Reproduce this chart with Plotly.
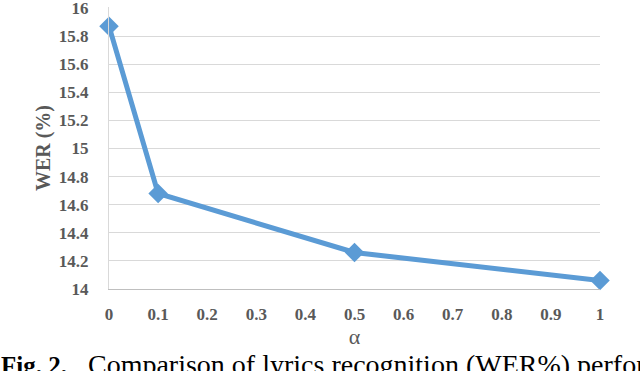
import plotly.graph_objects as go

alpha = [0, 0.1, 0.5, 1]
wer = [15.87, 14.68, 14.26, 14.06]
x_ticks = [0, 0.1, 0.2, 0.3, 0.4, 0.5, 0.6, 0.7, 0.8, 0.9, 1]
x_tick_labels = ["0", "0.1", "0.2", "0.3", "0.4", "0.5", "0.6", "0.7", "0.8", "0.9", "1"]
y_ticks = [14, 14.2, 14.4, 14.6, 14.8, 15, 15.2, 15.4, 15.6, 15.8, 16]
y_tick_labels = ["14", "14.2", "14.4", "14.6", "14.8", "15", "15.2", "15.4", "15.6", "15.8", "16"]
caption = ("<b><span style='font-size:25px'>Fig. 2.</span></b>&nbsp;&nbsp;&nbsp;"
           "Comparison of lyrics recognition (WER%) performance")

serif = "Liberation Serif"

fig = go.Figure()
fig.add_trace(go.Scatter(
    x=alpha, y=wer, mode="lines+markers",
    line=dict(color="#5B9BD5", width=5),
    marker=dict(symbol="diamond", size=15, color="#5B9BD5"),
    showlegend=False, cliponaxis=False,
))

fig.update_layout(
    template="none",
    width=640, height=371,
    margin=dict(l=109, r=40, t=7, b=82, autoexpand=False),
    paper_bgcolor="white", plot_bgcolor="white",
    font=dict(family=serif, color="#595959"),
    xaxis=dict(
        range=[0, 1], tickvals=x_ticks, ticktext=x_tick_labels,
        showgrid=False, zeroline=False, automargin=False,
        showline=True, linecolor="#BFBFBF", linewidth=1,
        tickfont=dict(family=serif, size=17, color="#595959", weight="bold"),
        ticks="", ticklabelstandoff=10, ticklabeloverflow="allow",
        title=dict(text="α", font=dict(family=serif, size=22, color="#595959"), standoff=0),
    ),
    yaxis=dict(
        range=[14, 16.007], tickvals=y_ticks, ticktext=y_tick_labels,
        showgrid=True, gridcolor="#D9D9D9", gridwidth=1, zeroline=False, automargin=False,
        showline=True, linecolor="#D9D9D9", linewidth=1,
        tickfont=dict(family=serif, size=17, color="#595959", weight="bold"),
        ticks="", ticklabelstandoff=16, ticklabeloverflow="allow",
        title=dict(text="<b>WER (%)</b>", font=dict(family=serif, size=20, color="#595959"), standoff=2),
    ),
    annotations=[dict(
        text=caption, xref="paper", yref="paper",
        x=-0.225, y=-0.204, xanchor="left", yanchor="top",
        showarrow=False, align="left",
        font=dict(family=serif, size=28, color="black"),
    )],
)

fig.write_html(
    "out.html",
    config={"displayModeBar": False},
    post_script="document.body.style.margin='0';document.body.style.overflow='hidden';",
)
